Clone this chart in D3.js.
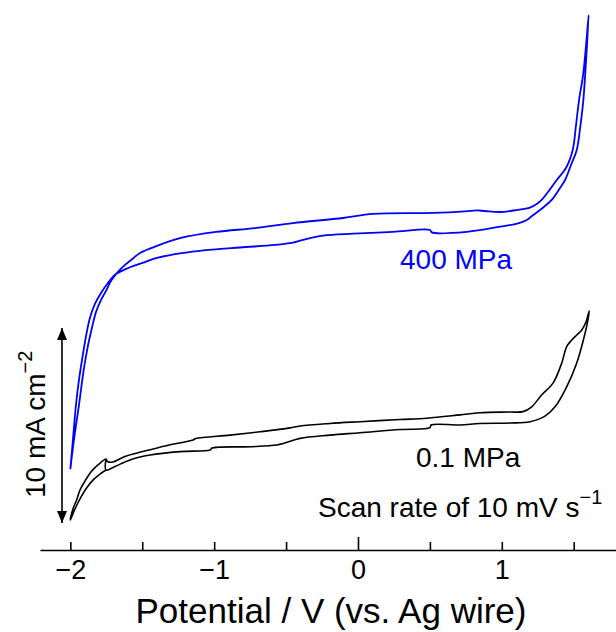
<!DOCTYPE html>
<html>
<head>
<meta charset="utf-8">
<script src="https://cdn.jsdelivr.net/npm/d3@7"></script>
<style>
  body { margin: 0; background: #fff; }
  svg { display: block; font-family: "Liberation Sans", Arial, sans-serif; }
</style>
</head>
<body>
<svg width="616" height="632"></svg>
<script>
// 400 MPa cycle (offset current, mA cm^-2)
const hpPotential = [
  -2.00, -1.982, -1.961, -1.940, -1.919, -1.892, -1.864, -1.829, -1.787, -1.739, -1.683,
  -1.620, -1.560, -1.481, -1.398, -1.273, -1.099, -0.821, -0.577, -0.452, -0.382,
  -0.243, -0.031, 0.243, 0.501, 0.513, 0.758, 0.987, 1.113, 1.173, 1.210,
  1.300, 1.347, 1.405, 1.440, 1.481, 1.521, 1.547, 1.567, 1.586, 1.604,
  1.589, 1.565, 1.537, 1.516, 1.493, 1.446, 1.382, 1.321, 1.277, 1.243,
  1.196, 1.104, 0.987, 0.883, 0.828, 0.744, 0.522, 0.104, -0.104, -0.452,
  -0.716, -0.987, -1.231, -1.398, -1.516, -1.560, -1.620, -1.683,
  -1.718, -1.752, -1.787, -1.822, -1.850, -1.878, -1.905, -1.940, -1.975, -2.00
]
const hpCurrent = [
  2.73, 4.23, 6.03, 7.32, 8.35, 9.54, 10.52, 11.24, 11.80, 12.32, 12.78,
  13.02, 13.20, 13.40, 13.61, 13.81, 13.98, 14.15, 14.28, 14.40, 14.54,
  14.76, 14.86, 14.95, 15.05, 14.93, 14.96, 15.22, 15.39, 15.57, 15.77,
  16.29, 16.60, 17.22, 17.63, 18.40, 19.18, 20.46, 21.75, 23.81, 26.13,
  24.85, 23.04, 21.75, 20.46, 19.18, 18.25, 17.63, 17.01, 16.60, 16.39,
  16.21, 16.08, 15.98, 16.03, 16.06, 16.01, 15.93, 15.88, 15.67, 15.41,
  15.15, 14.95, 14.64, 14.23, 13.87, 13.61, 13.25, 12.78,
  12.42, 11.91, 11.44, 10.82, 10.00, 9.07, 7.94, 6.03, 4.23, 2.73
]

// 0.1 MPa cycle
const ambPotential = [
  -1.752, -1.794, -1.843, -1.892, -1.933, -1.968, -2.00,
  -1.982, -1.954, -1.933, -1.898, -1.857, -1.808, -1.752,
  -1.742, -1.704, -1.620, -1.495, -1.342, -1.147, -1.127, -0.890, -0.682, -0.473,
  -0.403, -0.195, 0.014, 0.292, 0.478, 0.709, 0.848, 1.057, 1.147, 1.208,
  1.277, 1.356, 1.417, 1.451, 1.486, 1.521, 1.556, 1.586, 1.608,
  1.595, 1.567, 1.521, 1.451, 1.370, 1.300, 1.196, 1.057, 0.848, 0.709,
  0.508, 0.501, 0.292, 0.014, -0.195, -0.403, -0.508, -0.565, -0.751, -1.015,
  -1.029, -1.238, -1.446, -1.585, -1.690, -1.752, -1.752
]
const ambCurrent = [
  2.68, 2.47, 2.16, 1.70, 1.19, 0.67, 0.10,
  0.67, 1.19, 1.65, 2.11, 2.58, 2.94, 3.25,
  3.12, 3.09, 3.38, 3.63, 3.92, 4.23, 4.30, 4.48, 4.65, 4.85,
  4.95, 5.08, 5.17, 5.28, 5.35, 5.52, 5.63, 5.67, 5.69, 5.94,
  6.55, 7.16, 8.20, 9.04, 9.38, 9.64, 9.90, 10.32, 10.89,
  10.26, 9.38, 8.20, 6.97, 5.94, 5.46, 5.17, 5.10, 5.08, 5.00,
  5.00, 4.86, 4.77, 4.60, 4.48, 4.31, 4.07, 3.97, 3.88, 3.81,
  3.71, 3.63, 3.45, 3.20, 2.86, 2.68, 3.25
]

const xTicks = [-2, -1.5, -1, -0.5, 0, 0.5, 1, 1.5]
const scaleBar = [0, 10]

const svg = d3.select("svg")

const x = d3.scaleLinear()
    .domain([-2.211, 1.794])
    .range([40, 616])

const y = d3.scaleLinear()
    .domain([0, 10])
    .range([522, 328])

const line = d3.line()
    .x(d => x(d[0]))
    .y(d => y(d[1]))
    .curve(d3.curveCatmullRom.alpha(0.5))

svg.append("path")
    .attr("d", line(d3.zip(hpPotential, hpCurrent)))
    .attr("fill", "none")
    .attr("stroke", "#0000ff")
    .attr("stroke-width", 1.8)
    .attr("stroke-linejoin", "round")

svg.append("path")
    .attr("d", line(d3.zip(ambPotential, ambCurrent)))
    .attr("fill", "none")
    .attr("stroke", "#000")
    .attr("stroke-width", 1.6)
    .attr("stroke-linejoin", "round")

// x axis, ticks pointing up
const xAxis = svg.append("g")
    .attr("transform", "translate(0,550)")
    .call(d3.axisBottom(x)
        .tickValues(xTicks)
        .tickSize(-8)
        .tickSizeOuter(0)
        .tickPadding(10)
        .tickFormat(d => Number.isInteger(d) ? d3.format("")(d) : ""))

xAxis.select(".domain").attr("stroke-width", 1.6)
xAxis.selectAll(".tick line").attr("stroke-width", 1.6)
xAxis.selectAll(".tick line").filter(d => d === 0).attr("y2", -13)
xAxis.selectAll(".tick text")
    .attr("font-size", 27)
    .attr("font-family", "Liberation Sans, Arial, sans-serif")
    .attr("fill", "#000")

svg.append("text")
    .attr("x", 331)
    .attr("y", 623)
    .attr("text-anchor", "middle")
    .attr("font-size", 35)
    .text("Potential / V (vs. Ag wire)")

// 10 mA cm-2 scale arrow
const defs = svg.append("defs")
defs.append("marker")
    .attr("id", "head")
    .attr("viewBox", "0 0 12 10")
    .attr("refX", 12)
    .attr("refY", 5)
    .attr("markerWidth", 12)
    .attr("markerHeight", 10)
    .attr("markerUnits", "userSpaceOnUse")
    .attr("orient", "auto-start-reverse")
    .append("path")
    .attr("d", "M0,0 L12,5 L0,10 Z")
    .attr("fill", "#000")

svg.append("line")
    .attr("x1", 62).attr("x2", 62)
    .attr("y1", y(scaleBar[0]) + 1)
    .attr("y2", y(scaleBar[1]))
    .attr("stroke", "#000")
    .attr("stroke-width", 1.6)
    .attr("marker-start", "url(#head)")
    .attr("marker-end", "url(#head)")

const yLabel = svg.append("text")
    .attr("transform", "translate(45,498) rotate(-90)")
    .attr("font-size", 28)
yLabel.append("tspan").text("10 mA cm")
yLabel.append("tspan").attr("dy", -13).attr("font-size", 20).text("\u22122")

svg.append("text")
    .attr("x", 400).attr("y", 269)
    .attr("font-size", 28)
    .attr("fill", "#0000ff")
    .text("400 MPa")

svg.append("text")
    .attr("x", 416).attr("y", 467)
    .attr("font-size", 28)
    .text("0.1 MPa")

const rate = svg.append("text")
    .attr("x", 318).attr("y", 517)
    .attr("font-size", 28)
rate.append("tspan").text("Scan rate of 10 mV s")
rate.append("tspan").attr("dy", -13).attr("font-size", 20).text("\u22121")
</script>
</body>
</html>
